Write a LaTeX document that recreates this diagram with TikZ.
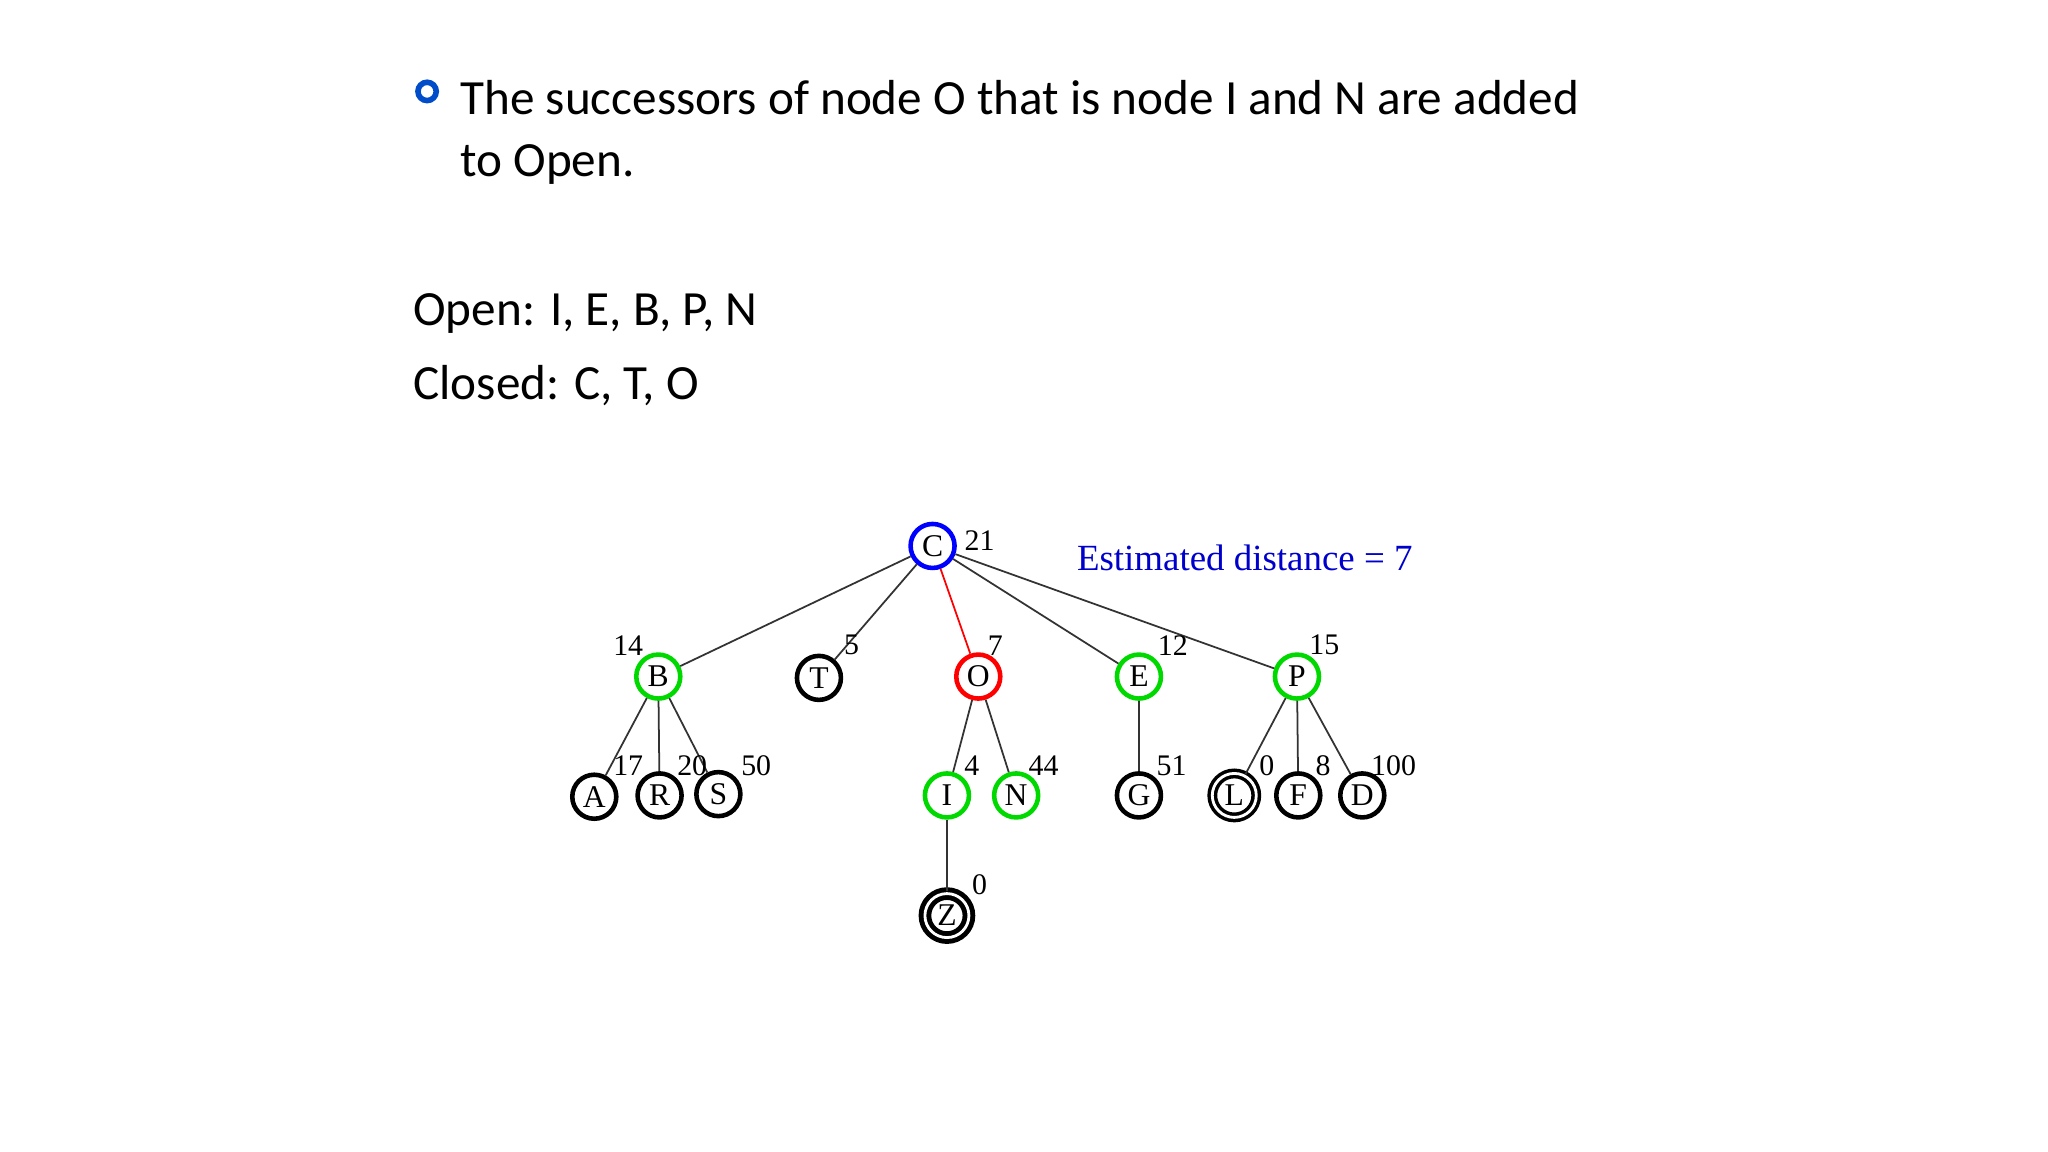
\documentclass[tikz,border=0pt]{standalone}
\usepackage{fontspec}
\setmainfont{Carlito}
\newfontfamily\tms{Liberation Serif}
\begin{document}
\begin{tikzpicture}[x=0.01306cm,y=-0.01306cm,
  tn/.style={circle,draw,line width=1.3pt,minimum size=0.44cm,inner sep=0pt,font=\tms\fontsize{9}{10}\selectfont},
  gn/.style={tn,draw=green!85!black},
  dn/.style={tn,double,double distance=0.8pt,line width=1pt},
  lb/.style={font=\tms\fontsize{8.5}{10}\selectfont},
  ed/.style={draw=black!80,line width=0.5pt},
  bt/.style={font=\fontsize{14}{17}\selectfont,anchor=base west}]
\useasboundingbox (0,0) rectangle (1568,882);
\draw[line width=1.6pt,draw=blue!70!black!70!cyan] (327,70) circle (7);
\node[bt] (l1) at (343,88) {The successors of node O that is node I and N are added};
\node[bt] (l2) at (343,135) {to Open.};
\node[bt] (o1) at (307,249) {Open: I, E, B, P, N};
\node[bt] (o2) at (307,306) {Closed: C, T, O};
\node[tn,draw=blue] (C) at (714,418) {C};
\node[gn] (B) at (504,518) {B};
\node[tn] (T) at (627,519) {T};
\node[tn,draw=red] (O) at (749,518) {O};
\node[gn] (E) at (872,518) {E};
\node[gn] (P) at (993,518) {P};
\node[tn] (A) at (455,610) {A};
\node[tn] (R) at (505,609) {R};
\node[tn] (S) at (550,608) {S};
\node[gn] (I) at (725,609) {I};
\node[gn] (N) at (778,609) {N};
\node[tn] (G) at (872,609) {G};
\node[dn] (L) at (945,609) {L};
\node[tn] (F) at (994,609) {F};
\node[tn] (D) at (1043,609) {D};
\node[dn,line width=1.4pt] (Z) at (725,701) {Z};
\foreach \a/\b in {C/B,C/T,C/E,C/P,B/A,B/R,B/S,O/I,O/N,E/G,P/L,P/F,P/D,I/Z}
  \draw[ed] (\a) -- (\b);
\draw[red,line width=0.5pt] (C) -- (O);
\foreach \t/\x/\y in {21/750/414,14/481/494,5/652/494,7/762/494,12/898/494,15/1014/494,17/481/586,20/530/586,50/579/586,4/744/586,44/799/586,51/897/586,0/970/586,8/1013/586,100/1067/586,0/750/677}
  \node[lb] at (\x,\y) {\t};
\node[lb,blue!80!black,font=\tms\fontsize{10.5}{12}\selectfont] (est) at (953,427) {Estimated distance = 7};
\end{tikzpicture}
\end{document}
